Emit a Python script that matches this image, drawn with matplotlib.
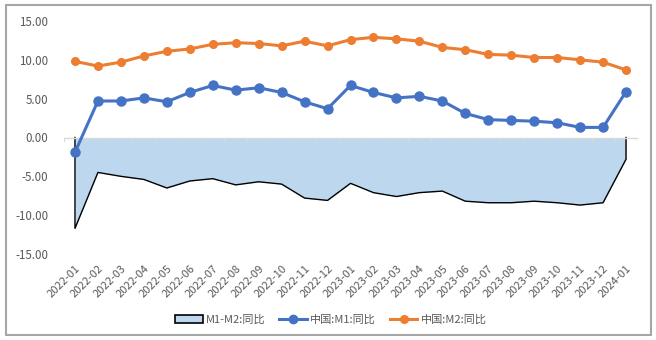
import numpy as np
import matplotlib.pyplot as plt
from matplotlib.patches import Rectangle, Patch
from matplotlib.lines import Line2D

plt.rcParams['font.family'] = ['Noto Sans CJK SC', 'DejaVu Sans']

# données
mois = ['2022-01', '2022-02', '2022-03', '2022-04', '2022-05', '2022-06', '2022-07', '2022-08',
        '2022-09', '2022-10', '2022-11', '2022-12', '2023-01', '2023-02', '2023-03', '2023-04',
        '2023-05', '2023-06', '2023-07', '2023-08', '2023-09', '2023-10', '2023-11', '2023-12',
        '2024-01']
m1 = [-1.9, 4.7, 4.7, 5.1, 4.6, 5.8, 6.7, 6.1, 6.4, 5.8, 4.6, 3.7,
      6.7, 5.8, 5.1, 5.3, 4.7, 3.1, 2.3, 2.2, 2.1, 1.9, 1.3, 1.3, 5.9]
m2 = [9.8, 9.2, 9.7, 10.5, 11.1, 11.4, 12.0, 12.2, 12.1, 11.8, 12.4, 11.8,
      12.6, 12.9, 12.7, 12.4, 11.6, 11.3, 10.7, 10.6, 10.3, 10.3, 10.0, 9.7, 8.7]
ecart = [-11.7, -4.5, -5.0, -5.4, -6.5, -5.6, -5.3, -6.1, -5.7, -6.0, -7.8, -8.1,
         -5.9, -7.1, -7.6, -7.1, -6.9, -8.2, -8.4, -8.4, -8.2, -8.4, -8.7, -8.4, -2.8]

gris = '#595959'
bleu = '#4472C4'
orange = '#ED7D31'
remplissage = '#BDD7EE'

fig = plt.figure(figsize=(6.56, 3.4), dpi=100)
ax = fig.add_axes([63.5/656, 1-254/340, (637.5-63.5)/656, (254-21)/340])

x = np.arange(len(mois))

# zone M1-M2
ax.fill_between(x, 0, ecart, color=remplissage, lw=0, zorder=1)
xs = np.concatenate([[x[0]], x, [x[-1]]])
ys = np.concatenate([[0], ecart, [0]])
ax.plot(xs, ys, color='black', lw=1.0, zorder=2)

# axe horizontal à zéro
ax.axhline(0, color='#D9D9D9', lw=1.0, zorder=3)
for b in np.arange(-0.5, len(mois)):
    ax.plot([b, b], [0, -0.45], color='#D9D9D9', lw=0.8, zorder=3)

ax.plot(x, m1, color=bleu, lw=2.2, marker='o', ms=6.5, zorder=5)
ax.plot(x, m2, color=orange, lw=2.2, marker='o', ms=5.5, zorder=5)

ax.set_xlim(-0.5, len(mois)-0.5)
ax.set_ylim(-15, 15)
ax.set_yticks(np.arange(-15, 16, 5))
ax.set_yticklabels([f'{v:.2f}' for v in np.arange(-15, 16, 5)])
ax.set_xticks(x)
ax.set_xticklabels(mois, rotation=45, ha='right', rotation_mode='anchor')
ax.tick_params(axis='y', length=0, pad=11, labelsize=8.3, labelcolor=gris)
ax.tick_params(axis='x', length=0, pad=7, labelsize=8, labelcolor=gris)
for s in ax.spines.values():
    s.set_visible(False)

handles = [Patch(facecolor=remplissage, edgecolor='black', lw=1.2),
           Line2D([], [], color=bleu, lw=2.2, marker='o', ms=6),
           Line2D([], [], color=orange, lw=2.2, marker='o', ms=5.5)]
labels = ['M1-M2:同比', '中国:M1:同比', '中国:M2:同比']
leg = fig.legend(handles, labels, loc='center', bbox_to_anchor=(331/656, 1-320/340), ncol=3,
                 frameon=False, fontsize=8, handlelength=2.5, handleheight=0.7,
                 columnspacing=1.2, handletextpad=0.3)
for t in leg.get_texts():
    t.set_color(gris)

# cadre extérieur
fig.patches.append(Rectangle((6/656, 1-335/340), 645/656, 330/340, transform=fig.transFigure,
                             fill=False, edgecolor='#A6A6A6', lw=1.5))

fig.savefig('out.png', dpi=100)
